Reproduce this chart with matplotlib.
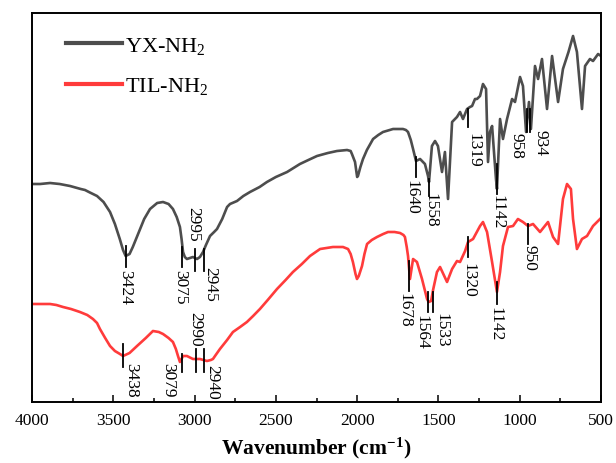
import matplotlib
matplotlib.use("Agg")
import matplotlib.pyplot as plt
from matplotlib.ticker import MultipleLocator

plt.rcParams['font.family'] = ['Liberation Serif', 'DejaVu Serif']
plt.rcParams['mathtext.fontset'] = 'custom'
plt.rcParams['mathtext.rm'] = 'Liberation Serif'
plt.rcParams['mathtext.bf'] = 'Liberation Serif:bold'

# ---- data (wavenumber in cm-1, transmittance in arbitrary units) ----
yx_wn = [4000, 3950, 3889, 3830, 3766, 3700, 3674, 3650, 3600, 3560, 3520, 3490, 3460,
         3440, 3424, 3400, 3380, 3350, 3310, 3274, 3230, 3194, 3160, 3133, 3110, 3090,
         3080, 3071, 3060, 3047, 3010, 2985, 2967, 2948, 2930, 2905, 2880, 2862, 2830,
         2800, 2782, 2739, 2700, 2659, 2600, 2555, 2500, 2431, 2352, 2300, 2247, 2180,
         2124, 2062, 2040, 2032, 2013, 2000, 1995, 1980, 1964, 1940, 1902, 1870, 1841,
         1779, 1718, 1700, 1687, 1670, 1656, 1638, 1613, 1583, 1564, 1558, 1540, 1521,
         1503, 1478, 1460, 1441, 1416, 1386, 1367, 1349, 1324, 1306, 1293, 1275, 1263,
         1244, 1226, 1207, 1195, 1183, 1170, 1146, 1140, 1121, 1103, 1078, 1047, 1029,
         998, 980, 961, 943, 931, 906, 887, 863, 832, 801, 764, 734, 700, 672, 648, 617,
         598, 568, 549, 518, 500]
yx_t = [218, 218, 219, 218, 216, 213, 212, 210, 206, 200, 190, 178, 163,
        152, 146, 148, 155, 167, 183, 193, 199, 200, 198, 193, 185, 175,
        163, 150, 145, 143, 145, 143, 145, 150, 157, 166, 170, 173, 183,
        195, 198, 201, 206, 210, 215, 220, 225, 230, 238, 242, 246, 249,
        251, 252, 251, 248, 240, 225, 226, 235, 243, 252, 263, 267, 270,
        273, 273, 272, 270, 262, 253, 241, 243, 238, 226, 220, 256, 261,
        256, 230, 250, 203, 280, 285, 290, 283, 293, 295, 296, 303, 303,
        306, 318, 313, 240, 270, 276, 223, 213, 283, 263, 283, 303, 300,
        325, 316, 270, 300, 273, 336, 323, 343, 293, 346, 300, 333, 350, 366, 350, 293,
        336, 343, 341, 348, 346]

til_wn = [4000, 3950, 3889, 3850, 3809, 3760, 3705, 3660, 3625, 3600, 3582, 3550, 3520,
          3490, 3459, 3440, 3400, 3354, 3300, 3256, 3220, 3194, 3160, 3133, 3115, 3102,
          3090, 3071, 3047, 3010, 2967, 2924, 2900, 2887, 2870, 2844, 2800, 2764, 2720,
          2678, 2640, 2598, 2550, 2493, 2440, 2395, 2340, 2290, 2228, 2149, 2087, 2056,
          2040, 2026, 2010, 2001, 1990, 1970, 1955, 1939, 1910, 1878, 1840, 1810, 1770,
          1736, 1715, 1706, 1695, 1687, 1675, 1656, 1632, 1601, 1570, 1560, 1545, 1533,
          1509, 1490, 1447, 1416, 1386, 1367, 1336, 1318, 1287, 1244, 1226, 1201, 1170,
          1140, 1121, 1103, 1072, 1041, 1011, 980, 949, 918, 875, 826, 795, 764, 734, 709,
          685, 672, 648, 617, 586, 549, 506, 500]
til_t = [98, 98, 98, 97, 95, 93, 90, 87, 83, 79, 73, 64, 56,
         51, 48, 46, 49, 56, 64, 71, 70, 68, 64, 60, 53, 46,
         40, 46, 46, 43, 43, 41, 42, 43, 47, 53, 62, 70, 75,
         80, 86, 93, 102, 113, 122, 130, 138, 146, 153, 155, 155, 153,
         148, 140, 128, 123, 126, 136, 148, 158, 162, 165, 168, 170, 170,
         169, 167, 165, 155, 146, 123, 143, 140, 123, 103, 100, 101, 112,
         130, 135, 120, 133, 141, 140, 151, 160, 163, 176, 180, 170, 140,
         110, 130, 156, 175, 176, 183, 180, 176, 178, 170, 180, 165, 158, 203, 218,
         213, 183, 153, 163, 166, 176, 183, 184]

# peak labels: wavenumber, label text
yx_peaks = [3424, 3075, 2995, 2945, 1640, 1558, 1319, 1142, 958, 934]
yx_labels = ['3424', '3075', '2995', '2945', '1640', '1558', '1319', '1142', '958', '934']
til_peaks = [3438, 3079, 2990, 2940, 1678, 1564, 1533, 1320, 1142, 950]
til_labels = ['3438', '3079', '2990', '2940', '1678', '1564', '1533', '1320', '1142', '950']

xticks = [4000, 3500, 3000, 2500, 2000, 1500, 1000, 500]

# ---- layout of the annotations (tick y-range, text x, text y, vertical alignment) ----
yx_ann = [(156, 135, 3424, 133, 'top'), (155, 135, 3090, 133, 'top'),
          (153, 131, 3010, 161, 'bottom'), (153, 131, 2905, 136, 'top'),
          (245, 225, 1663, 223, 'top'), (223, 206, 1546, 210, 'top'),
          (293, 275, 1287, 270, 'top'), (238, 208, 1134, 208, 'top'),
          (293, 270, 1017, 270, 'top'), (293, 270, 875, 273, 'top')]
til_ann = [(58, 35, 3391, 40, 'top'), (48, 30, 3163, 40, 'top'),
           (53, 30, 2997, 56, 'bottom'), (53, 30, 2893, 38, 'top'),
           (141, 111, 1706, 110, 'top'), (110, 90, 1607, 88, 'top'),
           (110, 90, 1484, 90, 'top'), (165, 145, 1318, 140, 'top'),
           (120, 98, 1152, 96, 'top'), (178, 158, 937, 158, 'top')]

fig = plt.figure(figsize=(6.16, 4.64), dpi=100)
ax = fig.add_axes([32/616, 61/464, 569/616, 389/464])

ax.plot(yx_wn, yx_t, color='#4d4d4d', lw=1.9, label='YX-NH$_2$')
ax.plot(til_wn, til_t, color='#ff3b3b', lw=1.9, label='TIL-NH$_2$')

for peaks, labels, ann in [(yx_peaks, yx_labels, yx_ann), (til_peaks, til_labels, til_ann)]:
    for wn, lab, (y0, y1, tx, ty, va) in zip(peaks, labels, ann):
        ax.plot([wn, wn], [y0, y1], color='black', lw=1.3)
        ax.text(tx, ty, lab, rotation=270, ha='center', va=va, fontsize=12.5)

ax.set_xlim(4000, 500)
ax.set_ylim(0, 389)
ax.set_xticks(xticks)
ax.set_xticklabels([str(t) for t in xticks], fontsize=12.5)
ax.xaxis.set_minor_locator(MultipleLocator(250))
ax.tick_params(axis='x', which='major', direction='in', length=5, width=1.1, pad=7)
ax.tick_params(axis='x', which='minor', direction='in', length=3, width=1.1)
ax.set_yticks([])
for s in ax.spines.values():
    s.set_linewidth(1.4)

ax.set_xlabel('Wavenumber (cm$\\mathbf{^{-1}}$)', fontsize=15.5, fontweight='bold', labelpad=5)

leg = ax.legend(loc='upper left', bbox_to_anchor=(0.025, 0.995), frameon=False, fontsize=16,
                handlelength=2.5, handletextpad=0.15, labelspacing=0.85)
for h in leg.legend_handles:
    h.set_linewidth(3)

fig.savefig('out.png', dpi=100)
